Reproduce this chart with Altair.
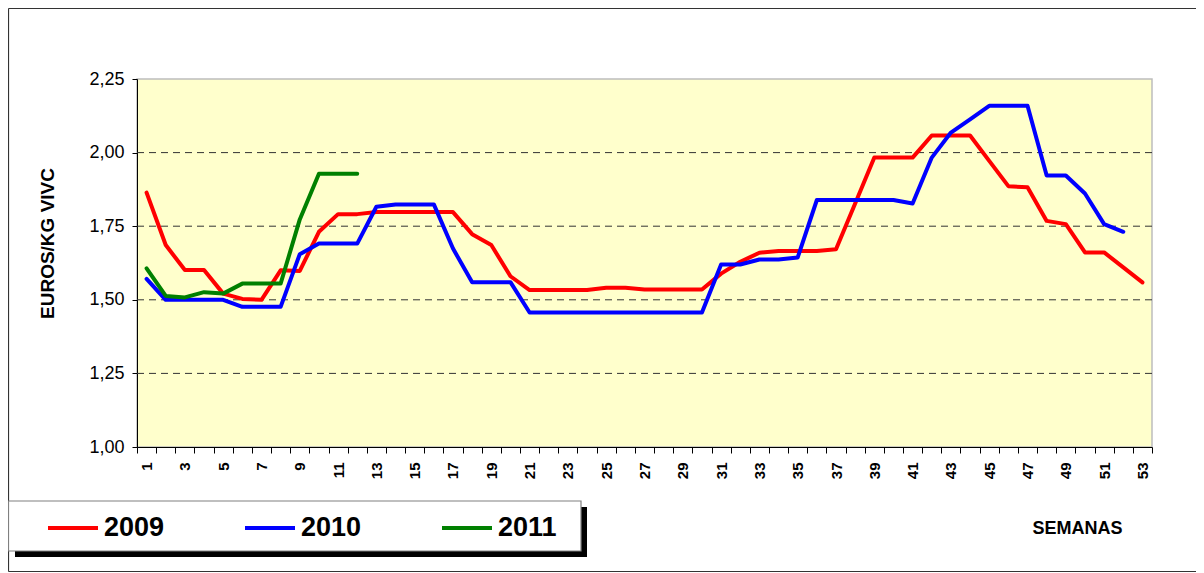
import altair as alt
import pandas as pd

# ---- data ----
weeks = list(range(1, 54))
p2009 = [1.864, 1.686, 1.601, 1.601, 1.521, 1.503, 1.500, 1.600, 1.598, 1.731,
         1.791, 1.791, 1.798, 1.798, 1.798, 1.798, 1.798, 1.723, 1.686, 1.580,
         1.533, 1.533, 1.533, 1.533, 1.541, 1.541, 1.535, 1.535, 1.535, 1.535,
         1.589, 1.629, 1.660, 1.666, 1.666, 1.666, 1.672, 1.827, 1.983, 1.983,
         1.983, 2.058, 2.058, 2.058, 1.972, 1.886, 1.882, 1.768, 1.757, 1.661,
         1.661, 1.610, 1.559]
p2010 = [1.571, 1.500, 1.500, 1.500, 1.500, 1.476, 1.476, 1.476, 1.655, 1.691,
         1.691, 1.691, 1.816, 1.824, 1.824, 1.824, 1.674, 1.560, 1.560, 1.560,
         1.457, 1.457, 1.457, 1.457, 1.457, 1.457, 1.457, 1.457, 1.457, 1.457,
         1.620, 1.620, 1.637, 1.637, 1.644, 1.839, 1.839, 1.839, 1.839, 1.839,
         1.827, 1.983, 2.068, 2.113, 2.159, 2.159, 2.159, 1.922, 1.922, 1.861,
         1.757, 1.731]
p2011 = [1.607, 1.513, 1.508, 1.526, 1.521, 1.555, 1.555, 1.555, 1.773, 1.928,
         1.928, 1.928]
years = ["2009", "2010", "2011"]
colors = ["#FF0000", "#0000FF", "#008000"]
y_ticks = [1.00, 1.25, 1.50, 1.75, 2.00, 2.25]
grid_levels = [1.25, 1.50, 1.75, 2.00]
y_title = "EUROS/KG VIVC"
x_title = "SEMANAS"

rows = []
for yr, series in zip(years, [p2009, p2010, p2011]):
    for w, v in zip(weeks, series):
        rows.append({"semana": w, "precio": v, "anio": yr})
df = pd.DataFrame(rows)

W, H = 1015, 368
FONT = "Liberation Sans"

xscale = alt.Scale(type="band", domain=weeks, paddingInner=0, paddingOuter=0)
yscale = alt.Scale(domain=[1.0, 2.25], nice=False, zero=False)

one = alt.Data(values=[{"k": 1}])

# outer frame: top, left and bottom edges (the right edge lies outside the picture)
frame_top = alt.Chart(one).mark_rule(color="#333333", strokeWidth=1.2).encode(
    x=alt.value(-128.5), x2=alt.value(W + 60), y=alt.value(-70.5))
frame_left = alt.Chart(one).mark_rule(color="#333333", strokeWidth=1.2).encode(
    x=alt.value(-128.5), y=alt.value(-70.5), y2=alt.value(H + 124.5))
frame_bottom = alt.Chart(one).mark_rule(color="#333333", strokeWidth=1.2).encode(
    x=alt.value(-128.5), x2=alt.value(W + 60), y=alt.value(H + 124.5))

shadow = alt.Chart(one).mark_rect(fill="#000000").encode(
    x=alt.value(-122), x2=alt.value(450), y=alt.value(428), y2=alt.value(478)
)
box = alt.Chart(one).mark_rect(fill="#FFFFFF", stroke="#808080", strokeWidth=1.2).encode(
    x=alt.value(-128.5), x2=alt.value(444), y=alt.value(422), y2=alt.value(472)
)

grid = alt.Chart(pd.DataFrame({"g": grid_levels})).mark_rule(
    color="#333333", strokeWidth=1, strokeDash=[7, 5]
).encode(y=alt.Y("g:Q", scale=yscale))

lines = alt.Chart(df).mark_line(strokeWidth=4, strokeCap="round", strokeJoin="round").encode(
    x=alt.X("semana:O", scale=xscale, sort=weeks,
            axis=alt.Axis(title=x_title, tickBand="extent", labelAngle=270,
                          labelExpr="datum.value % 2 == 1 ? datum.label : ''",
                          labelOverlap=False, labelFont=FONT, labelFontSize=15,
                          labelFontWeight="bold", labelColor="#000000", labelPadding=9,
                          tickSize=6, tickColor="#000000", domainColor="#000000",
                          titleFont=FONT, titleFontSize=18, titleFontWeight="bold",
                          titleColor="#000000", titleX=940, titleY=81,
                          titleBaseline="middle", titleAlign="center")),
    y=alt.Y("precio:Q", scale=yscale,
            axis=alt.Axis(title=y_title, values=y_ticks, grid=False,
                          labelExpr="replace(format(datum.value, '.2f'), '.', ',')",
                          labelFont=FONT, labelFontSize=18, labelColor="#000000",
                          labelPadding=8, tickSize=5, tickColor="#000000",
                          domainColor="#000000", titleFont=FONT, titleFontSize=19,
                          titleFontWeight="bold", titleColor="#000000",
                          titleX=-80, titleY=164)),
    color=alt.Color("anio:N", scale=alt.Scale(domain=years, range=colors),
                    legend=alt.Legend(title=None, orient="none", legendX=-91, legendY=422,
                                      direction="horizontal", columns=3,
                                      symbolType="stroke", symbolSize=2500,
                                      symbolStrokeWidth=4, columnPadding=72,
                                      labelOffset=4, padding=0, labelFont=FONT,
                                      labelFontSize=27, labelFontWeight="bold",
                                      labelColor="#000000")),
)

chart = alt.layer(frame_top, frame_left, frame_bottom, shadow, box, grid, lines).properties(
    width=W, height=H,
    padding={"left": 129, "top": 71, "right": 44, "bottom": 126},
    autosize=alt.AutoSizeParams(type="none"),
    background="#FFFFFF",
).configure_view(fill="#FFFFCC", stroke="#BDBDBD", strokeWidth=1.5)

chart.save("out.html", embed_options={"renderer": "svg", "actions": False})
